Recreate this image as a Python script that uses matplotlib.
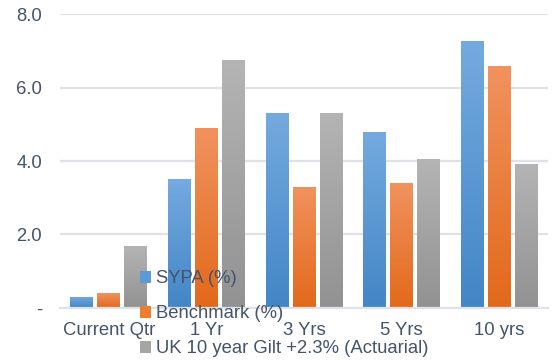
import numpy as np
import matplotlib.pyplot as plt
from matplotlib.colors import LinearSegmentedColormap
from matplotlib.patches import Patch

plt.rcParams['font.family'] = ['Liberation Sans', 'DejaVu Sans']

categories = ["Current Qtr", "1 Yr", "3 Yrs", "5 Yrs", "10 yrs"]
sypa = [0.30, 3.50, 5.32, 4.78, 7.28]
benchmark = [0.40, 4.90, 3.30, 3.40, 6.58]
gilt = [1.68, 6.75, 5.30, 4.05, 3.93]
series_names = ["SYPA (%)", "Benchmark (%)", "UK 10 year Gilt +2.3% (Actuarial)"]
yticks = [0, 2, 4, 6, 8]
ytick_labels = ["-", "2.0", "4.0", "6.0", "8.0"]

# gradient (top, bottom) per series
grads = [("#74aadf", "#4386c6"), ("#f1925e", "#e2691b"), ("#b4b4b4", "#929292")]
solid = ["#5b9bd5", "#ed7d31", "#a5a5a5"]
text_col = "#44546a"
fs = 13.3

fig = plt.figure(figsize=(5.56, 3.61), dpi=100)
ax = fig.add_axes([0.108, 0.147, 0.878, 0.814])

x = np.arange(len(categories))
width = 0.235
offsets = [-0.277, 0, 0.277]

for vals, off, (top, bot) in zip([sypa, benchmark, gilt], offsets, grads):
    cmap = LinearSegmentedColormap.from_list("g", [bot, top])
    bars = ax.bar(x + off, vals, width, color="none", edgecolor="none", zorder=2)
    for b in bars:
        x0, w, h = b.get_x(), b.get_width(), b.get_height()
        grad = np.linspace(0, 1, 100).reshape(-1, 1)
        im = ax.imshow(grad, cmap=cmap, origin="lower", aspect="auto",
                       extent=[x0, x0 + w, 0, h], zorder=2)
        im.set_clip_path(b)

ax.set_xlim(-0.5, len(categories) - 0.5)
ax.set_ylim(0, 8)
ax.set_yticks(yticks)
ax.set_yticklabels(ytick_labels)
ax.set_xticks(x)
ax.set_xticklabels(categories)
ax.tick_params(length=0, labelsize=fs, labelcolor=text_col)
ax.tick_params(axis="y", pad=13)
ax.tick_params(axis="x", pad=10)
ax.grid(axis="y", color="#dfe3e8", linewidth=1.6, zorder=0)
ax.set_axisbelow(True)
for s in ["top", "right", "left"]:
    ax.spines[s].set_visible(False)
ax.spines["bottom"].set_color("#dfe3e8")
ax.spines["bottom"].set_linewidth(1.6)

handles = [Patch(facecolor=c) for c in solid]
fig.legend(handles, series_names, loc="upper left", bbox_to_anchor=(0.235, 0.277),
           frameon=False, fontsize=fs, labelcolor=text_col, handlelength=0.6,
           handleheight=0.6, handletextpad=0.25, labelspacing=0.98, borderpad=0)

fig.savefig("out.png", dpi=100)
